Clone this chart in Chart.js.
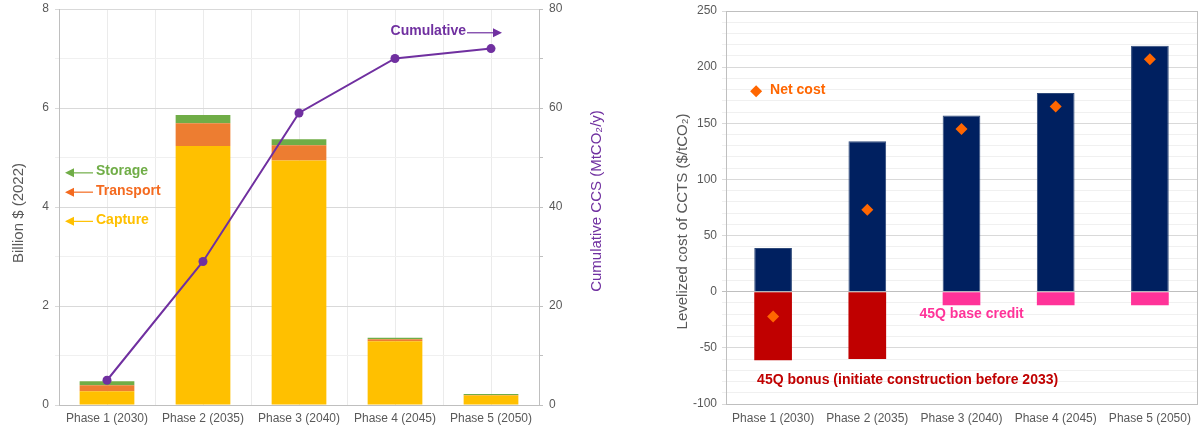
<!DOCTYPE html>
<html><head><meta charset="utf-8">
<script src="https://cdn.jsdelivr.net/npm/chart.js@4"></script>
<style>
html,body{margin:0;padding:0;background:#fff;overflow:hidden}
#wrap{position:relative;width:1203px;height:429px}
#c1{position:absolute;left:0;top:0}
#c2{position:absolute;left:610px;top:0}
</style></head><body>
<div id="wrap"><canvas id="c1" width="610" height="429"></canvas><canvas id="c2" width="593" height="429"></canvas></div>
<script>
// ---- data ----
const categories = ['Phase 1 (2030)', 'Phase 2 (2035)', 'Phase 3 (2040)', 'Phase 4 (2045)', 'Phase 5 (2050)'];
const captureCost = [0.28, 5.23, 4.94, 1.29, 0.19];
const transportCost = [0.12, 0.46, 0.31, 0.04, 0.01];
const storageCost = [0.08, 0.17, 0.12, 0.03, 0.02];
const cumulativeCCS = [5, 29, 59, 70, 72];
const grossCost = [39, 134, 157, 177, 219];
const bonusCredit = [-61, -60, null, null, null];
const baseCredit = [null, null, -12, -12, -12];
const netCost = [-22, 73, 145, 165, 207];

const FONT = '"Liberation Sans", Arial, sans-serif';
Chart.defaults.font.family = FONT;
Chart.defaults.color = '#595959';
const TICK = '#595959';

function drawArrow(ctx, x1, y, x2, color) {
  const dir = x2 > x1 ? 1 : -1;
  ctx.save();
  ctx.strokeStyle = color; ctx.fillStyle = color; ctx.lineWidth = 1.2;
  ctx.beginPath(); ctx.moveTo(x1, y); ctx.lineTo(x2 - dir * 6, y); ctx.stroke();
  ctx.beginPath(); ctx.moveTo(x2, y); ctx.lineTo(x2 - dir * 9, y - 4.5); ctx.lineTo(x2 - dir * 9, y + 4.5); ctx.closePath(); ctx.fill();
  ctx.restore();
}
function vText(ctx, text, x, y, color) {
  ctx.save();
  ctx.translate(x, y); ctx.rotate(-Math.PI / 2);
  ctx.font = '15px ' + FONT; ctx.fillStyle = color;
  ctx.textAlign = 'center'; ctx.textBaseline = 'middle';
  ctx.fillText(text, 0, 0);
  ctx.restore();
}
function fixY(width) {
  return s => { s.width = width; s.paddingTop = 0; s.paddingBottom = 0; };
}

const leftNotes = {
  id: 'leftNotes',
  afterDatasetsDraw(chart) {
    const {ctx, chartArea: a, scales} = chart;
    const y = scales.y, y1 = scales.y1, x = scales.x;
    ctx.save();
    ctx.font = 'bold 14px ' + FONT; ctx.textBaseline = 'middle'; ctx.textAlign = 'left';
    const notes = [['Storage', '#70AD47', 4.72], ['Transport', '#F46A1F', 4.33], ['Capture', '#FFC000', 3.74]];
    notes.forEach(([t, c, v]) => {
      const py = y.getPixelForValue(v);
      ctx.fillStyle = c; ctx.fillText(t, a.left + 37, py);
      drawArrow(ctx, a.left + 34, py + 1.5, a.left + 6, c);
    });
    const cy = y1.getPixelForValue(75.6);
    ctx.fillStyle = '#7030A0'; ctx.textAlign = 'right';
    ctx.fillText('Cumulative', x.getPixelForValue(3) + 71, cy);
    drawArrow(ctx, x.getPixelForValue(3) + 72, cy + 2, x.getPixelForValue(4) + 11, '#7030A0');
    ctx.restore();
    vText(ctx, 'Billion $ (2022)', a.left - 40.5, (a.top + a.bottom) / 2 + 6, '#595959');
    vText(ctx, 'Cumulative CCS (MtCO\u2082/y)', a.right + 58, (a.top + a.bottom) / 2 - 6, '#7030A0');
  }
};

new Chart(document.getElementById('c1'), {
  type: 'bar',
  data: {
    labels: categories,
    datasets: [
      {label: 'Cumulative', type: 'line', data: cumulativeCCS, yAxisID: 'y1', borderColor: '#7030A0', borderWidth: 2,
       pointRadius: 4.5, pointBackgroundColor: '#7030A0', pointBorderWidth: 0, tension: 0, order: 0},
      {label: 'Capture', data: captureCost, backgroundColor: '#FFC000', order: 1},
      {label: 'Transport', data: transportCost, backgroundColor: '#ED7D31', order: 1},
      {label: 'Storage', data: storageCost, backgroundColor: '#70AD47', order: 1}
    ]
  },
  options: {
    responsive: false, animation: false,
    layout: {padding: {top: 9, left: 0, right: 0, bottom: 0}},
    datasets: {bar: {barPercentage: 0.57, categoryPercentage: 1.0, borderWidth: 0}},
    plugins: {legend: {display: false}, tooltip: {enabled: false}},
    scales: {
      x: {stacked: true, offset: true, grid: {display: false, drawTicks: false}, border: {display: true, color: '#BFBFBF'},
          ticks: {color: TICK, font: {size: 12}, padding: 6, maxRotation: 0, autoSkip: false},
          afterFit: s => { s.height = 24; }},
      xg: {type: 'category', labels: ['', '', '', '', '', '', '', '', '', ''], offset: true, position: 'bottom',
           grid: {offset: true, color: '#EBEBEB', drawTicks: false}, ticks: {display: false}, border: {display: false},
           afterFit: s => { s.height = 0; }},
      y: {stacked: true, min: 0, max: 8,
          ticks: {stepSize: 1, maxTicksLimit: 100, autoSkip: false, color: TICK, font: {size: 12}, padding: 6, callback: v => (v % 2 === 0 ? v : '')},
          grid: {color: c => (c.tick && c.tick.value % 2 === 0 ? '#D9D9D9' : '#F0F0F0'), tickLength: 4},
          border: {color: '#BFBFBF'},
          afterFit: fixY(59)},
      y1: {position: 'right', min: 0, max: 80,
           ticks: {stepSize: 10, maxTicksLimit: 100, autoSkip: false, color: TICK, font: {size: 12}, padding: 6, callback: v => (v % 20 === 0 ? v : '')},
           grid: {drawOnChartArea: false, tickLength: 4, color: '#BFBFBF'},
           border: {color: '#BFBFBF'},
           afterFit: fixY(71)}
    }
  },
  plugins: [leftNotes]
});

const rightNotes = {
  id: 'rightNotes',
  beforeDatasetsDraw(chart) {
    const {ctx, chartArea: a} = chart;
    ctx.save(); ctx.strokeStyle = '#BFBFBF'; ctx.lineWidth = 1;
    ctx.strokeRect(Math.round(a.left) + 0.5, Math.round(a.top) + 0.5, Math.round(a.right - a.left), Math.round(a.bottom - a.top));
    ctx.restore();
  },
  afterDatasetsDraw(chart) {
    const {ctx, chartArea: a, scales} = chart;
    const x = scales.x, y = scales.y;
    ctx.save();
    ctx.font = 'bold 14px ' + FONT; ctx.textBaseline = 'middle'; ctx.textAlign = 'left';
    const ny = y.getPixelForValue(178.5), nx = x.getPixelForValue(0) - 17;
    ctx.fillStyle = '#FF6600';
    ctx.beginPath(); ctx.moveTo(nx, ny - 6); ctx.lineTo(nx + 6, ny); ctx.lineTo(nx, ny + 6); ctx.lineTo(nx - 6, ny); ctx.closePath(); ctx.fill();
    ctx.fillText('Net cost', nx + 14, ny - 1);
    ctx.fillStyle = '#FF3399';
    ctx.fillText('45Q base credit', x.getPixelForValue(2) - 42, y.getPixelForValue(-19.6));
    ctx.fillStyle = '#C00000';
    ctx.fillText('45Q bonus (initiate construction before 2033)', x.getPixelForValue(0) - 16, y.getPixelForValue(-78.4));
    ctx.restore();
    vText(ctx, 'Levelized cost of CCTS ($/tCO\u2082)', a.left - 43, (a.top + a.bottom) / 2 + 14, '#595959');
  }
};

new Chart(document.getElementById('c2'), {
  type: 'bar',
  data: {
    labels: categories,
    datasets: [
      {label: 'Net cost', type: 'line', data: netCost, showLine: false, pointStyle: 'rectRot', pointRadius: 6,
       pointBackgroundColor: '#FF6600', pointBorderWidth: 0, order: 0},
      {label: 'Cost', data: grossCost, backgroundColor: '#002060', borderColor: '#2F4A7A', borderWidth: 1, order: 1},
      {label: '45Q bonus', data: bonusCredit, backgroundColor: '#C00000', borderWidth: 0, order: 1},
      {label: '45Q base credit', data: baseCredit, backgroundColor: '#FF3399', borderWidth: 0, order: 1}
    ]
  },
  options: {
    responsive: false, animation: false,
    layout: {padding: {top: 11, left: 0, right: 5, bottom: 0}},
    datasets: {bar: {barPercentage: 0.4, categoryPercentage: 1.0}},
    plugins: {legend: {display: false}, tooltip: {enabled: false}},
    scales: {
      x: {stacked: true, offset: true, grid: {display: false, drawTicks: false}, border: {display: false},
          ticks: {color: TICK, font: {size: 12}, padding: 7, maxRotation: 0, autoSkip: false},
          afterFit: s => { s.height = 25; }},
      y: {stacked: true, min: -100, max: 250,
          ticks: {stepSize: 10, maxTicksLimit: 100, autoSkip: false, color: TICK, font: {size: 12}, padding: 5, callback: v => (v % 50 === 0 ? v : '')},
          grid: {color: c => (c.tick && c.tick.value === 0 ? '#BFBFBF' : (c.tick && c.tick.value % 50 === 0 ? '#D9D9D9' : '#F0F0F0')), tickLength: 4},
          border: {color: '#BFBFBF'},
          afterFit: fixY(116)}
    }
  },
  plugins: [rightNotes]
});
</script>
</body></html>
